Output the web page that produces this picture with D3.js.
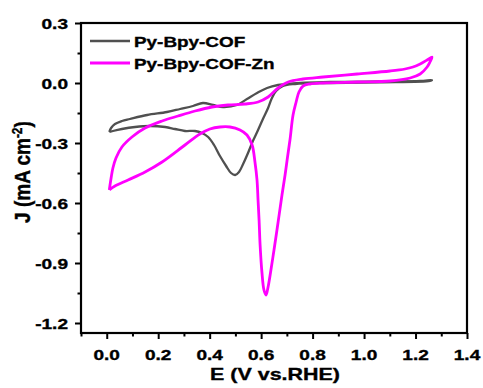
<!DOCTYPE html>
<html>
<head>
<meta charset="utf-8">
<script src="https://cdn.jsdelivr.net/npm/d3@7/dist/d3.min.js"></script>
<style>
  html, body { margin: 0; padding: 0; background: #ffffff; }
  svg { display: block; }
</style>
</head>
<body>
<script>
// Cyclic voltammograms: potential E (V vs. RHE) and current density J (mA cm^-2)
const seriesNames = ["Py-Bpy-COF", "Py-Bpy-COF-Zn"];
const seriesColors = ["#505050", "#ff00ff"];

// Py-Bpy-COF: anodic sweep to 1.26 V, then cathodic sweep back
const cofE = [0.010,0.017,0.032,0.059,0.090,0.157,0.234,0.285,0.335,0.374,0.413,0.452,0.506,0.545,0.584,0.623,0.666,0.712,0.868,1.060,1.218,1.264,
              1.256,1.060,0.868,0.732,0.685,0.658,0.642,0.627,0.607,0.588,0.568,0.549,0.530,0.514,0.499,0.483,0.464,0.440,0.417,0.394,0.370,0.343,0.304,0.265,0.227,0.168,0.110,0.059,0.024,0.010];
const cofJ = [-0.245,-0.225,-0.205,-0.19,-0.18,-0.16,-0.145,-0.13,-0.115,-0.10,-0.11,-0.12,-0.11,-0.08,-0.05,-0.025,-0.01,-0.003,0.005,0.008,0.01,0.015,
              0.01,0.003,0,-0.005,-0.015,-0.04,-0.075,-0.125,-0.18,-0.235,-0.29,-0.35,-0.405,-0.445,-0.46,-0.45,-0.415,-0.365,-0.31,-0.27,-0.25,-0.24,-0.24,-0.23,-0.22,-0.215,-0.22,-0.23,-0.24,-0.245];

// Py-Bpy-COF-Zn
const znE = [0.010,0.017,0.024,0.036,0.059,0.098,0.149,0.215,0.277,0.343,0.409,0.471,0.537,0.588,0.627,0.666,0.705,0.763,0.841,0.973,1.101,1.159,1.190,1.218,1.245,1.264,
             1.256,1.245,1.218,1.179,1.101,0.973,0.841,0.790,0.763,0.747,0.736,0.724,0.712,0.701,0.693,0.681,0.666,0.650,0.635,0.627,0.619,0.611,0.603,0.596,0.592,0.588,0.584,0.576,0.565,0.545,0.518,0.479,0.440,0.401,0.362,0.304,0.215,0.149,0.083,0.032,0.010];
const znJ = [-0.535,-0.475,-0.425,-0.375,-0.32,-0.27,-0.225,-0.19,-0.165,-0.14,-0.12,-0.11,-0.105,-0.095,-0.07,-0.025,0.005,0.02,0.03,0.045,0.06,0.07,0.08,0.095,0.115,0.13,
             0.105,0.08,0.045,0.025,0.01,0.005,0,-0.005,-0.015,-0.045,-0.095,-0.16,-0.285,-0.385,-0.46,-0.56,-0.695,-0.835,-0.96,-1.02,-1.06,-1.035,-0.945,-0.81,-0.685,-0.585,-0.485,-0.395,-0.31,-0.26,-0.235,-0.22,-0.22,-0.23,-0.255,-0.31,-0.395,-0.445,-0.485,-0.515,-0.535];

const xMajor = [0.0,0.2,0.4,0.6,0.8,1.0,1.2,1.4];
const xMinor = [-0.1,0.1,0.3,0.5,0.7,0.9,1.1,1.3];
const yMajor = [0.3,0.0,-0.3,-0.6,-0.9,-1.2];
const yMinor = [0.15,-0.15,-0.45,-0.75,-1.05];
const xTickLabels = ["0.0","0.2","0.4","0.6","0.8","1.0","1.2","1.4"];
const yTickLabels = ["0.3","0.0","-0.3","-0.6","-0.9","-1.2"];

const W = 483, H = 388;
const plot = {left: 81, right: 467, top: 23, bottom: 333};
const FONT = "'Liberation Sans', Arial, sans-serif";
const SX = 1.27; // wide glyph proportions

const x = d3.scaleLinear().domain([-0.1, 1.4]).range([plot.left, plot.right]);
const y = d3.scaleLinear().domain([-1.25, 0.3]).range([plot.bottom, plot.top]);

const svg = d3.select("body").append("svg").attr("width", W).attr("height", H);

function label(g, tx, ty, txt, size, anchor, sx) {
  return g.append("text")
    .attr("transform", `translate(${tx},${ty}) scale(${sx},1)`)
    .attr("text-anchor", anchor)
    .attr("font-family", FONT)
    .attr("font-weight", "bold")
    .attr("font-size", size)
    .attr("fill", "#000")
    .attr("stroke", "#000").attr("stroke-width", 0.35)
    .text(txt);
}

// Curves
const line = d3.line().x(d => x(d[0])).y(d => y(d[1])).curve(d3.curveCatmullRom.alpha(0.5));
const cofPts = cofE.map((e, i) => [e, cofJ[i]]);
const znPts = znE.map((e, i) => [e, znJ[i]]);

svg.append("clipPath").attr("id", "plotclip").append("rect")
  .attr("x", plot.left).attr("y", plot.top)
  .attr("width", plot.right - plot.left).attr("height", plot.bottom - plot.top);

const curves = svg.append("g").attr("clip-path", "url(#plotclip)");
curves.append("path").datum(cofPts).attr("d", line)
  .attr("fill", "none").attr("stroke", seriesColors[0]).attr("stroke-width", 2.3).attr("stroke-linejoin", "round");
curves.append("path").datum(znPts).attr("d", line)
  .attr("fill", "none").attr("stroke", seriesColors[1]).attr("stroke-width", 2.8).attr("stroke-linejoin", "round");

// Axis ticks (outward)
const axG = svg.append("g");
function ticks(gen, vals, size, tr) {
  const g = axG.append("g").attr("transform", tr)
    .call(gen.tickValues(vals).tickSize(size).tickSizeOuter(0).tickFormat(""));
  g.select(".domain").remove();
  g.selectAll(".tick line").attr("stroke", "#000").attr("stroke-width", 2);
}
ticks(d3.axisBottom(x), xMajor, 6, `translate(0,${plot.bottom})`);
ticks(d3.axisBottom(x), xMinor, 3.5, `translate(0,${plot.bottom})`);
ticks(d3.axisLeft(y), yMajor, 6, `translate(${plot.left},0)`);
ticks(d3.axisLeft(y), yMinor, 3.5, `translate(${plot.left},0)`);

// Frame
svg.append("rect")
  .attr("x", plot.left).attr("y", plot.top)
  .attr("width", plot.right - plot.left).attr("height", plot.bottom - plot.top)
  .attr("fill", "none").attr("stroke", "#000").attr("stroke-width", 2.2);

// Tick labels
xMajor.forEach((v, i) => label(svg, x(v), 360, xTickLabels[i], 15, "middle", SX));
yMajor.forEach((v, i) => label(svg, 68, y(v) + 5.5, yTickLabels[i], 15, "end", SX));

// Axis titles
label(svg, 275, 380, "E (V vs.RHE)", 16.5, "middle", 1.3);
const yt = svg.append("text")
  .attr("transform", "translate(30,172) rotate(-90) scale(1,1.2)")
  .attr("text-anchor", "middle")
  .attr("font-family", FONT).attr("font-weight", "bold").attr("font-size", 19).attr("fill", "#000")
  .attr("stroke", "#000").attr("stroke-width", 0.35);
yt.append("tspan").text("J (mA cm");
yt.append("tspan").attr("dy", -7).attr("font-size", 12).text("-2");
yt.append("tspan").attr("dy", 7).text(")");

// Legend
const leg = svg.append("g");
seriesNames.forEach((name, i) => {
  const ly = 41 + i * 22;
  leg.append("line").attr("x1", 90).attr("x2", 130).attr("y1", ly).attr("y2", ly)
    .attr("stroke", seriesColors[i]).attr("stroke-width", i === 0 ? 2.3 : 2.8);
  label(leg, 134, ly + 6, name, 15, "start", 1.26);
});
</script>
</body>
</html>
